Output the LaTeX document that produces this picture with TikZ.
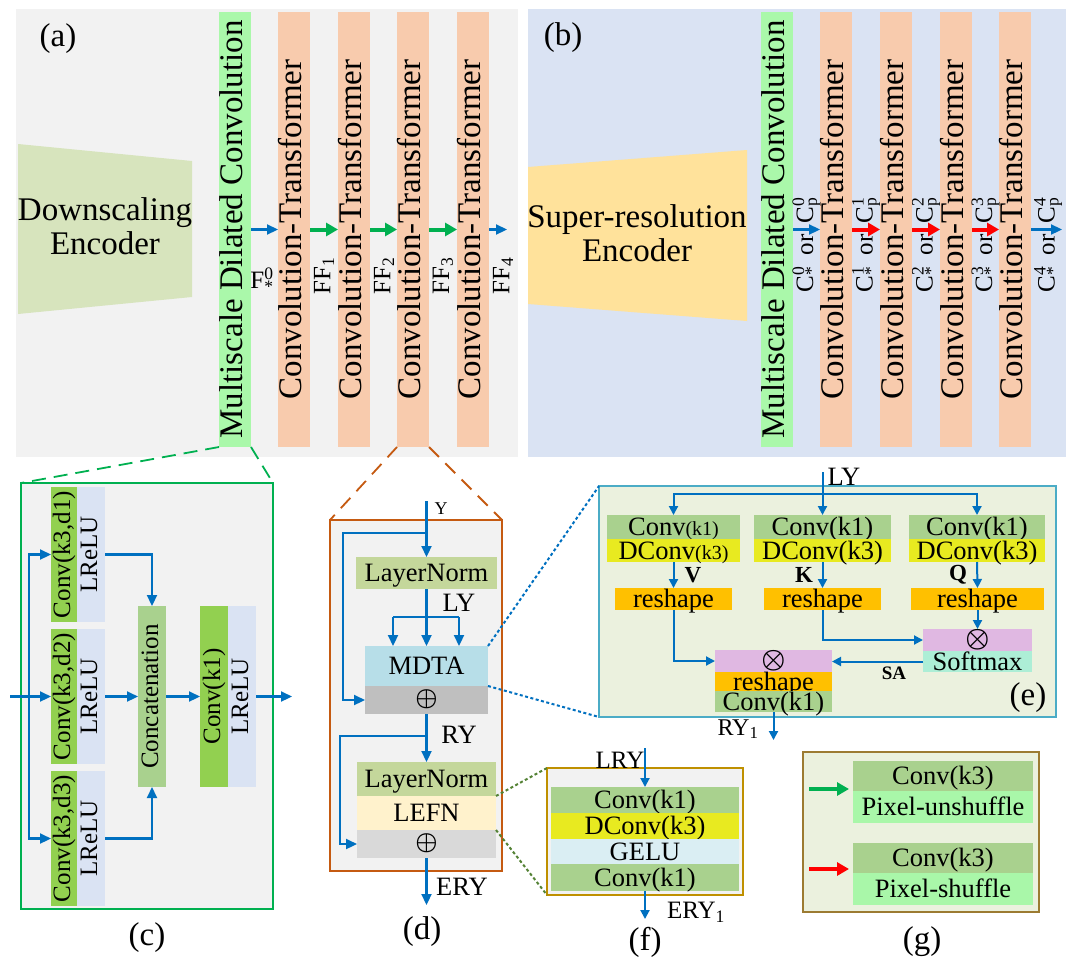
\documentclass[tikz,border=0pt]{standalone}
\usepackage{fontspec}
\setmainfont{Liberation Serif}
\usepackage{graphicx}
\usetikzlibrary{arrows.meta,calc}

\definecolor{bgA}{HTML}{F2F2F2}
\definecolor{bgB}{HTML}{DAE3F3}
\definecolor{dsenc}{HTML}{D7E4BD}
\definecolor{srenc}{HTML}{FFE29B}
\definecolor{msgreen}{HTML}{AAF8AA}
\definecolor{ctor}{HTML}{F8CBAD}
\definecolor{ablue}{HTML}{0070C0}
\definecolor{agreen}{HTML}{00B050}
\definecolor{ared}{HTML}{FF0000}
\definecolor{convg}{HTML}{92D050}
\definecolor{lav}{HTML}{DAE3F3}
\definecolor{concat}{HTML}{A9D18E}
\definecolor{dbrown}{HTML}{C55A11}
\definecolor{lngreen}{HTML}{C4D79B}
\definecolor{mdtac}{HTML}{B7DEE8}
\definecolor{plusA}{HTML}{BFBFBF}
\definecolor{plusB}{HTML}{D9D9D9}
\definecolor{lefnc}{HTML}{FFF2CC}
\definecolor{eborder}{HTML}{4BACC6}
\definecolor{efill}{HTML}{EBF1DE}
\definecolor{convl}{HTML}{A9D18E}
\definecolor{dconvc}{HTML}{E8EA20}
\definecolor{reshc}{HTML}{FFC000}
\definecolor{otc}{HTML}{E0B8E2}
\definecolor{softc}{HTML}{ADEED6}
\definecolor{geluc}{HTML}{DAEEF3}
\definecolor{fborder}{HTML}{BF9000}
\definecolor{gborder}{HTML}{9C7B32}
\definecolor{pixc}{HTML}{A9F7A9}
\definecolor{fdot}{HTML}{548235}

\newcommand\fsz[1]{\fontsize{#1}{#1}\selectfont}
\newcommand\rtext[1]{\makebox[0pt]{\rotatebox{90}{\rule[-.24em]{0pt}{.96em}#1}}}
\newcommand\opl{\raisebox{3pt}{\scalebox{2.5}{\fsz{10}\boldmath$\oplus$}}}
\newcommand\otm{\raisebox{2.5pt}{\scalebox{2.7}{\fsz{10}\boldmath$\otimes$}}}
\newcommand\clab[1]{C\rlap{\textsuperscript{#1}}\textsubscript{*}\hspace{.45em}or\hspace{.45em}C\rlap{\textsuperscript{#1}}\textsubscript{p}}
\newcommand\rbox[7]{%
  \pgfmathsetmacro\rbw{#4-#2}%
  \pgfmathsetmacro\rbh{#5-#3}%
  \pgfmathsetmacro\rbx{(#2+#4)/2}%
  \pgfmathsetmacro\rby{(#3+#5)/2}%
  \node[inner sep=0pt,outer sep=0pt,#6,minimum width=\rbw pt,minimum height=\rbh pt] (#1) at (\rbx,\rby) {#7};}

\begin{document}
\begin{tikzpicture}[x=1pt,y=-1pt,
  hblk/.style={text height=18pt,text depth=0.5pt,font=\fsz{26.5}},
  vblk/.style={font=\fsz{33}},
  cblk/.style={font=\fsz{25}},
  lbl/.style={inner sep=0pt,font=\fsz{26.5}},
  big/.style={inner sep=0pt,font=\fsz{33}},
  barr/.style={draw=ablue,line width=2.2pt,-{Triangle[length=11pt,width=10pt]}},
  bline/.style={draw=ablue,line width=2.2pt},
  earr/.style={draw=ablue,line width=2pt,-{Triangle[length=9pt,width=9pt]}},
  garr/.style={draw=agreen,line width=4pt,-{Triangle[length=12pt,width=13pt]}},
  rarr/.style={draw=ared,line width=4pt,-{Triangle[length=12pt,width=13pt]}},
  edot/.style={draw=ablue,line width=2pt,dash pattern=on 3pt off 2.5pt},
  fdotl/.style={draw=fdot,line width=2pt,dash pattern=on 3pt off 2.5pt},
]
\useasboundingbox (0,0) rectangle (1075,966);
\fill[white] (0,0) rectangle (1075,966);

% ---------- panels
\rbox{pa}{16}{9}{518}{457}{fill=bgA}{}
\rbox{pb}{528}{9}{1066}{457}{fill=bgB}{}
\node[big] (la) at (58,38.5) {(a)};
\node[big] (lb) at (563,38) {(b)};

% ---------- (a)
\fill[dsenc] (18,144) -- (192,161) -- (192,297) -- (18,314) -- cycle;
\node[inner sep=0pt,font=\fontsize{33}{34.5}\selectfont,align=center] (dstext) at (105,226) {Downscaling\\Encoder};
\rbox{msa}{219}{12}{251}{447}{vblk,fill=msgreen}{\rtext{Multiscale Dilated Convolution}}
\rbox{cta1}{278}{12}{310}{447}{vblk,fill=ctor}{\rtext{Convolution-Transformer}}
\rbox{cta2}{338}{12}{370}{447}{vblk,fill=ctor}{\rtext{Convolution-Transformer}}
\rbox{cta3}{397}{12}{429}{447}{vblk,fill=ctor}{\rtext{Convolution-Transformer}}
\rbox{cta4}{457}{12}{489}{447}{vblk,fill=ctor}{\rtext{Convolution-Transformer}}
\draw[barr] (msa.east) -- (cta1.west);
\draw[garr] (cta1.east) -- (cta2.west);
\draw[garr] (cta2.east) -- (cta3.west);
\draw[garr] (cta3.east) -- (cta4.west);
\coordinate (outa) at (507,229.5);
\draw[barr] (cta4.east) -- (outa);
\node[inner sep=0pt,font=\fsz{25}] (f0) at (262,280) {F\rlap{\textsuperscript{0}}\textsubscript{*}};
\node[inner sep=0pt,font=\fsz{25},rotate=90] (ff1) at (324,276) {FF\textsubscript{1}};
\node[inner sep=0pt,font=\fsz{25},rotate=90] (ff2) at (384,276) {FF\textsubscript{2}};
\node[inner sep=0pt,font=\fsz{25},rotate=90] (ff3) at (443,276) {FF\textsubscript{3}};
\node[inner sep=0pt,font=\fsz{25},rotate=90] (ff4) at (503,276) {FF\textsubscript{4}};

% ---------- (b)
\fill[srenc] (528,167) -- (747,150) -- (747,321) -- (528,304) -- cycle;
\node[inner sep=0pt,font=\fontsize{33}{34.5}\selectfont,align=center] (srtext) at (637,233) {Super-resolution\\Encoder};
\rbox{msb}{761}{12}{793}{447}{vblk,fill=msgreen}{\rtext{Multiscale Dilated Convolution}}
\rbox{ctb1}{820}{12}{852}{447}{vblk,fill=ctor}{\rtext{Convolution-Transformer}}
\rbox{ctb2}{880}{12}{912}{447}{vblk,fill=ctor}{\rtext{Convolution-Transformer}}
\rbox{ctb3}{940}{12}{972}{447}{vblk,fill=ctor}{\rtext{Convolution-Transformer}}
\rbox{ctb4}{999}{12}{1031}{447}{vblk,fill=ctor}{\rtext{Convolution-Transformer}}
\draw[barr] (msb.east) -- (ctb1.west);
\draw[rarr] (ctb1.east) -- (ctb2.west);
\draw[rarr] (ctb2.east) -- (ctb3.west);
\draw[rarr] (ctb3.east) -- (ctb4.west);
\coordinate (outb) at (1062,229.5);
\draw[barr] (ctb4.east) -- (outb);
\node[inner sep=0pt,font=\fsz{25},rotate=90] (cl0) at (806.5,245) {\clab{0}};
\node[inner sep=0pt,font=\fsz{25},rotate=90] (cl1) at (866,245) {\clab{1}};
\node[inner sep=0pt,font=\fsz{25},rotate=90] (cl2) at (926,245) {\clab{2}};
\node[inner sep=0pt,font=\fsz{25},rotate=90] (cl3) at (985.5,245) {\clab{3}};
\node[inner sep=0pt,font=\fsz{25},rotate=90] (cl4) at (1048,245) {\clab{4}};

% ---------- (c)
\rbox{cbox}{21}{483}{273}{909}{draw=agreen,line width=1.8pt,fill=bgA}{}
\draw[agreen,line width=1.8pt,dash pattern=on 14pt off 8pt] (msa.south west) -- (cbox.north west);
\draw[agreen,line width=1.8pt,dash pattern=on 14pt off 8pt] (msa.south east) -- (cbox.north east);
\rbox{c1g}{51}{487}{77}{622}{cblk,fill=convg}{\rtext{Conv(k3,d1)}}
\rbox{c1l}{77}{487}{105}{622}{cblk,fill=lav}{\rtext{LReLU}}
\rbox{c2g}{51}{629}{77}{764}{cblk,fill=convg}{\rtext{Conv(k3,d2)}}
\rbox{c2l}{77}{629}{105}{764}{cblk,fill=lav}{\rtext{LReLU}}
\rbox{c3g}{51}{771}{77}{906}{cblk,fill=convg}{\rtext{Conv(k3,d3)}}
\rbox{c3l}{77}{771}{105}{906}{cblk,fill=lav}{\rtext{LReLU}}
\rbox{cc}{138}{606}{166}{787}{cblk,fill=concat}{\rtext{Concatenation}}
\rbox{ckg}{200}{606}{228}{787}{cblk,fill=convg}{\rtext{Conv(k1)}}
\rbox{ckl}{228}{606}{256}{787}{cblk,fill=lav}{\rtext{LReLU}}
\coordinate (cin) at (10,696.5);
\coordinate (cj) at (29,696.5);
\coordinate (cout) at (292,696.5);
\draw[barr] (cin) -- (c2g.west);
\draw[barr] (cj) |- (c1g.west);
\draw[barr] (cj) |- (c3g.west);
\draw[barr] (c1l.east) -| (cc.north);
\draw[barr] (c3l.east) -| (cc.south);
\draw[barr] (c2l.east) -- (cc.west);
\draw[barr] (cc.east) -- (ckg.west);
\draw[barr] (ckl.east) -- (cout);
\node[big] (lc) at (147,938) {(c)};

% ---------- (d)
\rbox{dbox}{330}{520}{502}{871}{draw=dbrown,line width=2pt,fill=bgA}{}
\draw[dbrown,line width=1.8pt,dash pattern=on 14pt off 9pt] (cta3.south west) -- (dbox.north west);
\draw[dbrown,line width=1.8pt,dash pattern=on 14pt off 9pt] (cta3.south east) -- (dbox.north east);
\rbox{ln1}{356}{557}{497}{589}{hblk,fill=lngreen}{LayerNorm}
\rbox{mdta}{365}{646}{488}{686}{hblk,fill=mdtac}{MDTA}
\rbox{p1}{365}{686}{488}{714}{hblk,fill=plusA}{\opl}
\rbox{ln2}{357}{762}{496}{796}{hblk,fill=lngreen}{LayerNorm}
\rbox{lefn}{357}{796}{496}{830}{hblk,fill=lefnc}{LEFN}
\rbox{p2}{357}{830}{496}{858}{hblk,fill=plusB}{\opl}
\coordinate (dY) at (426.5,501);
\draw[barr] (dY) -- (ln1.north);
\node[inner sep=0pt,font=\fsz{18}] (ly0) at (441,509) {Y};
\coordinate (dj1) at (426.5,533);
\coordinate (dk1) at (343,533);
\draw[barr] (dj1) -- (dk1) |- (p1.west);
\draw[barr] (ln1.south) -- (mdta.north);
\coordinate (dbl) at (393,617);
\coordinate (dbr) at (459,617);
\draw[bline] (dbl) -- (dbr);
\draw[barr] (dbl) -- (dbl |- mdta.north);
\draw[barr] (dbr) -- (dbr |- mdta.north);
\node[lbl] (lyd) at (459,603) {LY};
\draw[barr] (p1.south) -- (ln2.north);
\node[lbl] (ryd) at (459,735) {RY};
\coordinate (dj2) at (426.5,736);
\coordinate (dk2) at (340,736);
\draw[barr] (dj2) -- (dk2) |- (p2.west);
\coordinate (dE) at (426.5,905);
\draw[barr] (p2.south) -- (dE);
\node[lbl] (eryd) at (462,887) {ERY};
\node[big] (ld) at (422,932) {(d)};

% ---------- (e)
\rbox{ebox}{599}{486}{1056}{717}{draw=eborder,line width=1.5pt,fill=efill}{}
\draw[edot] (mdta.north east) -- (ebox.north west);
\draw[edot] (p1.north east) -- (ebox.south west);
\rbox{vconv}{607}{515}{740}{539}{hblk,fill=convl}{Conv{\fsz{20}(k1)}}
\rbox{vdconv}{607}{539}{740}{562}{hblk,fill=dconvc}{DConv{\fsz{20}(k3)}}
\rbox{kconv}{754}{515}{891}{539}{hblk,fill=convl}{Conv(k1)}
\rbox{kdconv}{754}{539}{891}{562}{hblk,fill=dconvc}{DConv(k3)}
\rbox{qconv}{909}{515}{1045}{539}{hblk,fill=convl}{Conv(k1)}
\rbox{qdconv}{909}{539}{1045}{562}{hblk,fill=dconvc}{DConv(k3)}
\rbox{vres}{615}{588}{732}{610}{hblk,fill=reshc}{reshape}
\rbox{kres}{764}{588}{881}{610}{hblk,fill=reshc}{reshape}
\rbox{qres}{911}{588}{1044}{610}{hblk,fill=reshc}{reshape}
\rbox{qot}{923}{629}{1032}{651}{hblk,fill=otc}{\otm}
\rbox{soft}{923}{651}{1032}{672}{hblk,fill=softc}{Softmax}
\rbox{bot}{715}{650}{832}{672}{hblk,fill=otc}{\otm}
\rbox{bres}{715}{672}{832}{691}{hblk,fill=reshc}{reshape}
\rbox{bconv}{715}{691}{832}{712}{hblk,fill=convl}{Conv(k1)}
\coordinate (eLY) at (822.5,472);
\coordinate (ebus) at (822.5,494);
\draw[earr] (eLY) -- (kconv.north);
\draw[earr] (ebus) -| (vconv.north);
\draw[earr] (ebus) -| (qconv.north);
\node[lbl] (lye) at (844,477) {LY};
\draw[earr] (vdconv.south) -- (vres.north);
\draw[earr] (kdconv.south) -- (kres.north);
\draw[earr] (qdconv.south) -- (qres.north);
\node[inner sep=0pt,font=\fsz{23}\bfseries] (vl) at (693,575) {V};
\node[inner sep=0pt,font=\fsz{23}\bfseries] (kl) at (804,575) {K};
\node[inner sep=0pt,font=\fsz{23}\bfseries] (ql) at (958,575) {Q};
\draw[earr] (qres.south) -- (qot.north);
\draw[earr] (kres.south) |- (qot.west);
\draw[earr] (soft.west) -- (soft.west -| bot.east);
\draw[earr] (vres.south) |- (bot.west);
\node[inner sep=0pt,font=\fsz{19}\bfseries] (sal) at (894,673) {SA};
\coordinate (eRY) at (773.5,740);
\draw[earr] (bconv.south) -- (eRY);
\node[inner sep=0pt,font=\fsz{24}] (ry1) at (738,729) {RY\textsubscript{1}};
\node[big] (le) at (1028,698) {(e)};

% ---------- (f)
\rbox{fbox}{547}{768}{743}{895}{draw=fborder,line width=1.5pt,fill=bgA}{}
\draw[fdotl] (lefn.north east) -- (fbox.north west);
\draw[fdotl] (lefn.south east) -- (fbox.south west);
\rbox{f1}{551}{787}{739}{813}{hblk,fill=convl}{Conv(k1)}
\rbox{f2}{551}{813}{739}{839}{hblk,fill=dconvc}{DConv(k3)}
\rbox{f3}{551}{839}{739}{864}{hblk,fill=geluc}{GELU}
\rbox{f4}{551}{864}{739}{891}{hblk,fill=convl}{Conv(k1)}
\node[inner sep=0pt,font=\fsz{25}] (lry) at (620,760) {LRY};
\coordinate (fin) at (645,748);
\coordinate (fout) at (645,919);
\draw[earr] (fin) -- (f1.north);
\draw[earr] (f4.south) -- (fout);
\node[inner sep=0pt,font=\fsz{25}] (ery1) at (696,912) {ERY\textsubscript{1}};
\node[big] (lf) at (645,942) {(f)};

% ---------- (g)
\rbox{gbox}{803}{752}{1039}{912}{draw=gborder,line width=1.5pt,fill=efill}{}
\rbox{g1}{853}{761}{1033}{791}{hblk,fill=convl}{Conv(k3)}
\rbox{g2}{853}{791}{1033}{823}{hblk,fill=pixc}{Pixel-unshuffle}
\rbox{g3}{853}{843}{1033}{873}{hblk,fill=convl}{Conv(k3)}
\rbox{g4}{853}{873}{1033}{905}{hblk,fill=pixc}{Pixel-shuffle}
\coordinate (gga) at (809,789);
\coordinate (ggb) at (849,789);
\coordinate (gra) at (809,869);
\coordinate (grb) at (849,869);
\draw[garr] (gga) -- (ggb);
\draw[rarr] (gra) -- (grb);
\node[big] (lg) at (922,942) {(g)};
\end{tikzpicture}
\end{document}
